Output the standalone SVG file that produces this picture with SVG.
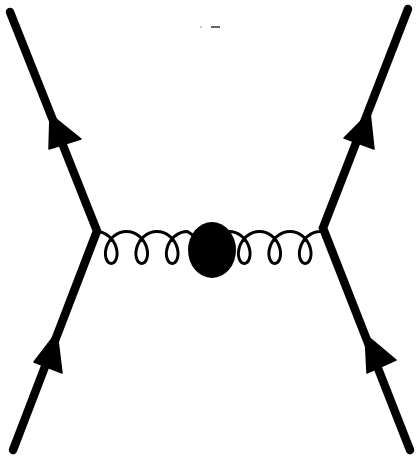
<svg xmlns="http://www.w3.org/2000/svg" width="416" height="459" viewBox="0 0 416 459">
<style>
.fermion{fill:none;stroke:#000;stroke-width:8.5;stroke-linecap:round;stroke-linejoin:miter;stroke-miterlimit:10}
.gluon{fill:none;stroke:#000;stroke-width:3}
.arrow{fill:#000;stroke:#000;stroke-width:1.5;stroke-linejoin:round}
</style>
<defs>
<path id="coil" d="c4.54,0 9.07,1.72 12.65,4.69 c3.59,2.96 6.2,7.13 7.47,11.31 c1.27,4.19 1.19,8.35 0.15,11.31 c-1.04,2.96 -3.03,4.69 -5.03,4.69 c-2,0 -3.98,-1.72 -5.03,-4.69 c-1.04,-2.96 -1.12,-7.13 0.15,-11.31 c1.27,-4.19 3.89,-8.35 7.47,-11.31 c3.59,-2.96 8.11,-4.69 12.65,-4.69"/>
</defs>
<rect width="416" height="459" fill="#fff"/>
<g id="connectors">
<polyline id="left-quark" class="fermion" points="10,12 97,231 13,450"/>
<polyline id="right-quark" class="fermion" points="408,9 323,228 410,450"/>
<path id="gluon-left" class="gluon" d="M96,231.5
c4.54,0 9.07,1.72 12.65,4.69 c3.59,2.96 6.2,7.13 7.47,11.31 c1.27,4.19 1.19,8.35 0.15,11.31 c-1.04,2.96 -3.03,4.69 -5.03,4.69 c-2,0 -3.98,-1.72 -5.03,-4.69 c-1.04,-2.96 -1.12,-7.13 0.15,-11.31 c1.27,-4.19 3.89,-8.35 7.47,-11.31 c3.59,-2.96 8.11,-4.69 12.65,-4.69
c4.54,0 9.07,1.72 12.65,4.69 c3.59,2.96 6.2,7.13 7.47,11.31 c1.27,4.19 1.19,8.35 0.15,11.31 c-1.04,2.96 -3.03,4.69 -5.03,4.69 c-2,0 -3.98,-1.72 -5.03,-4.69 c-1.04,-2.96 -1.12,-7.13 0.15,-11.31 c1.27,-4.19 3.89,-8.35 7.47,-11.31 c3.59,-2.96 8.11,-4.69 12.65,-4.69
c4.54,0 9.07,1.72 12.65,4.69 c3.59,2.96 6.2,7.13 7.47,11.31 c1.27,4.19 1.19,8.35 0.15,11.31 c-1.04,2.96 -3.03,4.69 -5.03,4.69 c-2,0 -3.98,-1.72 -5.03,-4.69 c-1.04,-2.96 -1.12,-7.13 0.15,-11.31 c1.27,-4.19 3.89,-8.35 7.47,-11.31 c3.59,-2.96 8.11,-4.69 12.65,-4.69
l6,4"/>
<path id="gluon-right" class="gluon" d="M229,231.5
c4.54,0 9.07,1.72 12.65,4.69 c3.59,2.96 6.2,7.13 7.47,11.31 c1.27,4.19 1.19,8.35 0.15,11.31 c-1.04,2.96 -3.03,4.69 -5.03,4.69 c-2,0 -3.98,-1.72 -5.03,-4.69 c-1.04,-2.96 -1.12,-7.13 0.15,-11.31 c1.27,-4.19 3.89,-8.35 7.47,-11.31 c3.59,-2.96 8.11,-4.69 12.65,-4.69
c4.54,0 9.07,1.72 12.65,4.69 c3.59,2.96 6.2,7.13 7.47,11.31 c1.27,4.19 1.19,8.35 0.15,11.31 c-1.04,2.96 -3.03,4.69 -5.03,4.69 c-2,0 -3.98,-1.72 -5.03,-4.69 c-1.04,-2.96 -1.12,-7.13 0.15,-11.31 c1.27,-4.19 3.89,-8.35 7.47,-11.31 c3.59,-2.96 8.11,-4.69 12.65,-4.69
c4.54,0 9.07,1.72 12.65,4.69 c3.59,2.96 6.2,7.13 7.47,11.31 c1.27,4.19 1.19,8.35 0.15,11.31 c-1.04,2.96 -3.03,4.69 -5.03,4.69 c-2,0 -3.98,-1.72 -5.03,-4.69 c-1.04,-2.96 -1.12,-7.13 0.15,-11.31 c1.27,-4.19 3.89,-8.35 7.47,-11.31 c3.59,-2.96 8.11,-4.69 12.65,-4.69
L323,229"/>
<polygon class="arrow" points="50,114 49,149 81,139"/>
<polygon class="arrow" points="57,332 34,362 62,373"/>
<polygon class="arrow" points="370,112 344,138 374,149"/>
<polygon class="arrow" points="365,334 367,373 396,360"/>
</g>
<g id="blob">
<ellipse cx="212" cy="250" rx="24" ry="28" fill="#000"/>
</g>
<line x1="211" y1="27" x2="220" y2="27" stroke="#333" stroke-width="1.5"/>
<line x1="200" y1="27" x2="202" y2="27" stroke="#bbb" stroke-width="1.5"/>
</svg>
